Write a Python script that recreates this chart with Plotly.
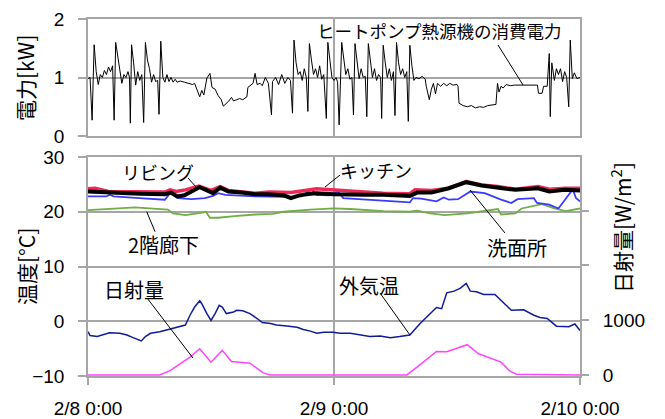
import pandas as pd
import plotly.graph_objects as go

# ---------------- data (hours since 2/8 0:00) ----------------
power_h = [0.0,0.2,0.4,0.6,0.8,1.0,1.2,1.4,1.6,1.8,2.0,2.2,2.4,2.55,2.7,2.9,3.1,3.3,3.5,3.7,3.9,4.05,4.13,4.25,4.45,4.65,4.85,5.05,5.25,5.43,5.6,5.8,6.0,6.2,6.4,6.6,6.8,6.93,7.1,7.3,7.5,7.7,7.9,8.1,8.3,8.5,8.7,9.0,9.4,9.8,10.2,10.4,10.6,10.9,11.1,11.3,11.6,11.9,12.1,12.4,12.7,13.0,13.2,13.5,13.7,14.0,14.2,14.5,14.8,15.1,15.5,15.6,15.9,16.1,16.3,16.5,16.8,17.0,17.3,17.6,17.9,18.0,18.3,18.6,18.9,19.2,19.5,19.75,19.95,20.1,20.3,20.5,20.7,20.9,21.1,21.3,21.45,21.6,21.8,22.0,22.2,22.4,22.6,22.8,23.0,23.25,23.4,23.6,23.8,24.0,24.2,24.35,24.5,24.75,24.95,25.15,25.35,25.55,25.75,25.9,26.05,26.25,26.45,26.65,26.85,27.05,27.2,27.35,27.55,27.75,27.95,28.15,28.35,28.55,28.65,28.8,29.0,29.2,29.4,29.6,29.8,29.95,30.1,30.3,30.5,30.7,30.9,31.1,31.25,31.4,31.6,31.8,32.0,32.3,32.6,32.9,33.0,33.3,33.5,33.7,33.9,34.1,34.4,34.7,35.0,35.3,35.6,36.0,36.1,36.2,36.6,37.0,37.4,37.8,38.2,38.6,39.0,39.4,39.8,39.95,40.1,40.3,40.5,40.8,41.2,41.6,42.0,42.5,43.0,43.5,43.85,43.95,44.3,44.45,44.8,45.0,45.1,45.25,45.5,45.7,45.9,46.1,46.3,46.5,46.7,46.9,47.05,47.25,47.45,47.7,48.0]
power_kw = [0.98,1.00,0.27,1.56,1.10,0.88,1.05,1.00,1.12,1.05,1.18,1.10,1.20,0.27,1.60,1.35,1.17,0.90,1.05,1.00,1.10,1.00,0.22,1.56,1.25,0.87,1.10,0.95,1.05,0.23,1.60,1.30,1.15,0.92,1.05,0.93,0.95,0.37,1.62,1.00,0.92,1.05,0.93,1.00,0.92,0.97,0.92,0.94,0.92,0.90,0.88,0.90,0.81,0.67,0.78,0.70,0.99,1.07,0.83,0.80,0.69,0.62,0.51,0.55,0.59,0.66,0.60,0.62,0.64,0.62,0.67,0.83,0.88,0.90,1.07,0.88,0.90,0.86,1.00,0.90,0.36,0.93,1.00,0.88,1.05,0.90,1.00,0.95,0.39,1.64,1.25,1.05,1.10,0.95,1.15,1.00,0.42,1.58,1.30,1.05,1.15,1.00,1.20,0.97,1.05,0.30,1.60,1.25,1.00,0.95,1.00,0.92,0.19,1.60,1.30,1.05,1.15,0.97,1.00,0.36,1.58,1.25,0.98,1.15,1.00,1.02,0.33,1.58,1.25,1.00,1.15,0.95,1.05,1.00,0.30,1.55,1.25,1.00,1.15,0.95,1.10,0.35,1.60,1.25,1.05,1.15,1.00,1.10,0.25,1.55,1.20,0.95,1.00,0.98,1.02,0.97,0.85,0.62,0.80,0.90,0.72,0.90,0.85,0.90,0.86,0.90,0.87,0.88,0.85,0.56,0.52,0.50,0.52,0.48,0.50,0.49,0.52,0.53,0.54,0.90,0.75,0.85,0.82,0.88,0.86,0.87,0.87,0.87,0.87,0.87,0.87,0.73,0.73,0.85,0.85,1.41,0.33,1.25,0.95,1.15,1.05,1.15,0.93,1.10,1.00,0.50,1.64,0.98,1.08,0.98,1.00]

living_h = [0,1,3,5,7.5,8.1,8.7,9.4,10.2,10.9,11.5,12.2,12.9,13.7,15,16.3,17.5,19.1,19.8,20.6,21.7,22.3,24,25.6,27,28.8,30.5,31.4,32.1,33.5,35.2,36.9,38.4,40,41.7,43.9,45,46.5,48]
living_t = [23.7,23.6,23.4,23.3,23.2,23.5,22.8,23.0,23.8,24.5,24.0,23.4,24.4,23.7,23.5,23.2,23.2,23.0,22.5,23.0,23.3,23.4,23.2,23.1,23.1,23.1,23.0,22.9,23.5,23.5,24.3,25.4,24.8,24.4,24.0,24.3,23.7,24.0,23.9]

kitchen_h = [0,0.7,2,5,7.5,8.0,8.6,9.5,10.8,12.0,12.9,13.7,16.3,17.7,19.8,22.3,24.0,25,26.9,28.8,31.4,31.9,33.5,35.2,36.9,38.4,40,41.7,43.9,45,46.6,48]
kitchen_t = [24.2,24.3,23.7,23.6,23.6,24.0,23.7,24.0,24.7,23.9,24.6,23.9,23.4,23.6,23.5,24.2,24.0,23.9,23.6,23.4,23.3,24.0,23.9,24.3,25.5,24.9,24.6,24.1,24.6,24.1,24.3,24.3]

wash_h = [0,1.8,2.1,2.5,5,7.5,8.0,8.8,10.1,11.4,12.2,12.7,13.4,16.3,19.1,20.8,21.8,22.3,23.5,24.4,24.9,27.2,29.5,31.4,31.7,32.5,34.0,34.7,35.2,36.1,37.3,38.7,40.3,41.3,41.9,43.5,43.8,45.0,45.9,46.6,47.3,47.6,48]
wash_t = [22.8,22.8,23.1,22.8,22.5,22.2,23.4,22.5,22.3,22.5,22.9,23.4,23.1,22.8,22.7,22.8,24.1,23.1,23.0,23.7,22.5,22.2,22.0,21.7,22.5,22.4,21.9,22.6,22.2,22.3,23.7,23.4,22.2,21.6,22.3,22.5,21.6,21.3,20.6,22.3,24.1,22.5,21.9]

hall_h = [0,2,4.6,6,7.8,8.3,9.5,11.3,11.5,11.9,12.7,14.3,16.3,18,19.1,21.7,24.0,25.6,28.8,31.4,32.1,33.4,34.8,37,40.0,40.3,41.7,42.3,44.3,45.5,46.6,48]
hall_t = [20.3,20.5,20.8,20.6,20.4,19.7,19.4,19.9,20.0,18.9,18.9,19.2,19.5,19.6,20.0,20.4,20.6,20.5,20.1,20.0,20.2,19.7,19.4,19.7,20.5,19.5,19.7,20.6,21.4,20.6,20.1,20.6]

outdoor_h = [0,0.2,0.9,2.1,3.1,3.8,4.4,4.9,5.2,5.6,6.1,7.0,7.7,8.95,9.5,9.95,10.4,10.9,11.1,11.6,12.0,12.4,12.8,13.1,13.5,14.2,14.5,15.1,15.8,16.5,17.0,17.8,18.4,19.4,20.4,21.0,21.7,22.3,23.0,23.9,24.6,25.6,26.5,27.5,28.5,29.5,30.4,31.4,32.4,33.4,34.0,34.5,35.0,35.7,36.3,36.9,37.3,37.9,38.6,39.7,40.5,41.3,42.5,43.5,44.1,44.8,45.7,46.9,47.5,48.0]
outdoor_t = [-1.9,-2.6,-2.8,-2.1,-2.2,-2.5,-3.0,-3.4,-3.6,-2.8,-2.2,-1.9,-1.6,-1.0,-0.7,1.1,2.6,3.75,3.2,1.4,0.15,1.4,2.9,2.6,1.4,1.7,2.0,1.9,1.4,0.5,-0.25,-0.4,-0.7,-0.85,-1.1,-1.5,-1.8,-2.2,-2.0,-2.0,-2.2,-2.2,-2.5,-2.8,-2.7,-3.0,-2.8,-2.5,-0.4,1.4,2.5,2.3,5.2,5.5,6.0,6.9,5.5,5.4,4.9,4.9,3.5,2.0,2.1,1.1,0.7,0.5,-0.9,-1.0,-0.5,-1.7]

solar_h = [0,7.0,8.0,8.95,9.95,10.9,12.0,13.1,14.0,15.8,17.1,17.8,31.1,32.1,33.1,34.0,35.0,36.0,37.0,38.1,39.5,40.3,41.1,41.8,48]
solar_w = [0,0,79,200,325,478,233,448,245,215,37,0,0,142,294,429,422,491,552,387,294,233,79,13,0]

x_tick_labels = ["2/8 0:00", "2/9 0:00", "2/10 0:00"]

# ---------------- helpers ----------------
base = pd.Timestamp("2010-02-08 00:00")
def t(hours):
    return [base + pd.Timedelta(hours=h) for h in hours]
tickvals_x = t([0, 24, 48])

FONT = "Liberation Sans, Noto Sans CJK JP, sans-serif"
JFONT = "Noto Sans CJK JP, Liberation Sans, sans-serif"
GRID = "#A6A6A6"

fig = go.Figure()
fig.add_trace(go.Scatter(x=t(power_h), y=power_kw, mode="lines", line=dict(color="black", width=1), xaxis="x", yaxis="y", name="電力"))
fig.add_trace(go.Scatter(x=t(hall_h), y=hall_t, mode="lines", line=dict(color="#70AD47", width=1.8), xaxis="x2", yaxis="y2", name="2階廊下"))
fig.add_trace(go.Scatter(x=t(wash_h), y=wash_t, mode="lines", line=dict(color="#3A3AFF", width=1.8), xaxis="x2", yaxis="y2", name="洗面所"))
fig.add_trace(go.Scatter(x=t(kitchen_h), y=kitchen_t, mode="lines", line=dict(color="#F0285A", width=3.5), xaxis="x2", yaxis="y2", name="キッチン"))
fig.add_trace(go.Scatter(x=t(living_h), y=living_t, mode="lines", line=dict(color="black", width=4), xaxis="x2", yaxis="y2", name="リビング"))
fig.add_trace(go.Scatter(x=t(outdoor_h), y=outdoor_t, mode="lines", line=dict(color="#101C96", width=1.5), xaxis="x2", yaxis="y2", name="外気温"))
fig.add_trace(go.Scatter(x=t(solar_h), y=solar_w, mode="lines", line=dict(color="#FF44FF", width=1.5), xaxis="x2", yaxis="y3", name="日射量"))

xdom = [88/665, 580/665]
axis_common = dict(showline=True, linecolor=GRID, linewidth=1.5, mirror=True,
                   gridcolor=GRID, gridwidth=1.5, zeroline=False, automargin=False,
                   layer="below traces")

fig.update_layout(
    width=665, height=419,
    margin=dict(l=0, r=0, t=0, b=0),
    plot_bgcolor="white", paper_bgcolor="white",
    showlegend=False,
    font=dict(family=FONT, size=19, color="black"),
    xaxis=dict(domain=xdom, anchor="y", range=[tickvals_x[0], tickvals_x[-1]],
               tickvals=tickvals_x, showticklabels=False, **axis_common),
    yaxis=dict(domain=[(419-136)/419, (419-19)/419], anchor="x", range=[0, 2],
               tickvals=[0, 1, 2], ticks="outside", ticklen=8, tickcolor=GRID,
               tickwidth=1.5, ticklabelstandoff=10, **axis_common),
    xaxis2=dict(domain=xdom, anchor="y2", range=[tickvals_x[0], tickvals_x[-1]],
                tickvals=tickvals_x, ticktext=x_tick_labels, ticks="outside",
                ticklen=7, tickcolor=GRID, tickwidth=1.5, ticklabelstandoff=7,
                **axis_common),
    yaxis2=dict(domain=[(419-376)/419, (419-157)/419], anchor="x2", range=[-10, 30],
                tickvals=[-10, 0, 10, 20, 30], ticks="outside", ticklen=8,
                tickcolor=GRID, tickwidth=1.5, ticklabelstandoff=10, **axis_common),
    yaxis3=dict(overlaying="y2", anchor="x2", side="right", range=[-20, 3980],
                tickvals=[0, 1000], ticks="outside", ticklen=8, tickcolor=GRID, tickwidth=1.5,
                minor=dict(tickmode="array", tickvals=[2000, 3000], ticks="outside",
                           ticklen=8, tickcolor=GRID, tickwidth=1.5, showgrid=False),
                showgrid=False, zeroline=False, showline=False, ticklabelstandoff=10,
                automargin=False, layer="below traces"),
)

# leader lines (data coordinates)
leaders = [
    ("x", "y", 40.0, 1.556, 42.44, 0.872),
    ("x2", "y2", 9.76, 26.16, 10.63, 24.34),
    ("x2", "y2", 24.59, 26.71, 23.12, 24.52),
    ("x2", "y2", 37.27, 23.97, 40.68, 16.12),
    ("x2", "y2", 5.73, 20.0, 6.54, 16.36),
    ("x2", "y2", 5.76, 4.25, 10.24, -6.71),
    ("x2", "y2", 28.49, 5.16, 31.41, -2.51),
]
for xr, yr, h0, v0, h1, v1 in leaders:
    fig.add_shape(type="line", xref=xr, yref=yr, x0=base + pd.Timedelta(hours=h0), y0=v0,
                  x1=base + pd.Timedelta(hours=h1), y1=v1, line=dict(color="black", width=1))

labels = [
    ("x", "y", 34.29, 1.795, "ヒートポンプ熱源機の消費電力", 17.5),
    ("x2", "y2", 6.83, 27.26, "リビング", 18),
    ("x2", "y2", 28.1, 27.63, "キッチン", 18),
    ("x2", "y2", 41.85, 13.38, "洗面所", 20),
    ("x2", "y2", 7.41, 13.93, "2階廊下", 20),
    ("x2", "y2", 4.49, 5.71, "日射量", 20),
    ("x2", "y2", 27.41, 6.44, "外気温", 20),
]
for xr, yr, h, v, txt, sz in labels:
    fig.add_annotation(xref=xr, yref=yr, x=base + pd.Timedelta(hours=h), y=v, text=txt,
                       showarrow=False, font=dict(family=JFONT, size=sz, color="black"),
                       xanchor="center", yanchor="middle")

# axis titles
fig.add_annotation(xref="paper", yref="paper", x=25/665, y=1-78/419, text="電力[kW]",
                   textangle=-90, showarrow=False, font=dict(family=JFONT, size=21),
                   xanchor="center", yanchor="middle")
fig.add_annotation(xref="paper", yref="paper", x=26/665, y=1-267/419, text="温度[°C]",
                   textangle=-90, showarrow=False, font=dict(family=JFONT, size=21),
                   xanchor="center", yanchor="middle")
fig.add_annotation(xref="paper", yref="paper", x=621/665, y=1-228/419, text="日射量[W/m<sup>2</sup>]",
                   textangle=-90, showarrow=False, font=dict(family=JFONT, size=21),
                   xanchor="center", yanchor="middle")

fig.write_html("out.html", config={"displayModeBar": False},
               post_script="document.body.style.margin='0';document.body.style.overflow='hidden';")
